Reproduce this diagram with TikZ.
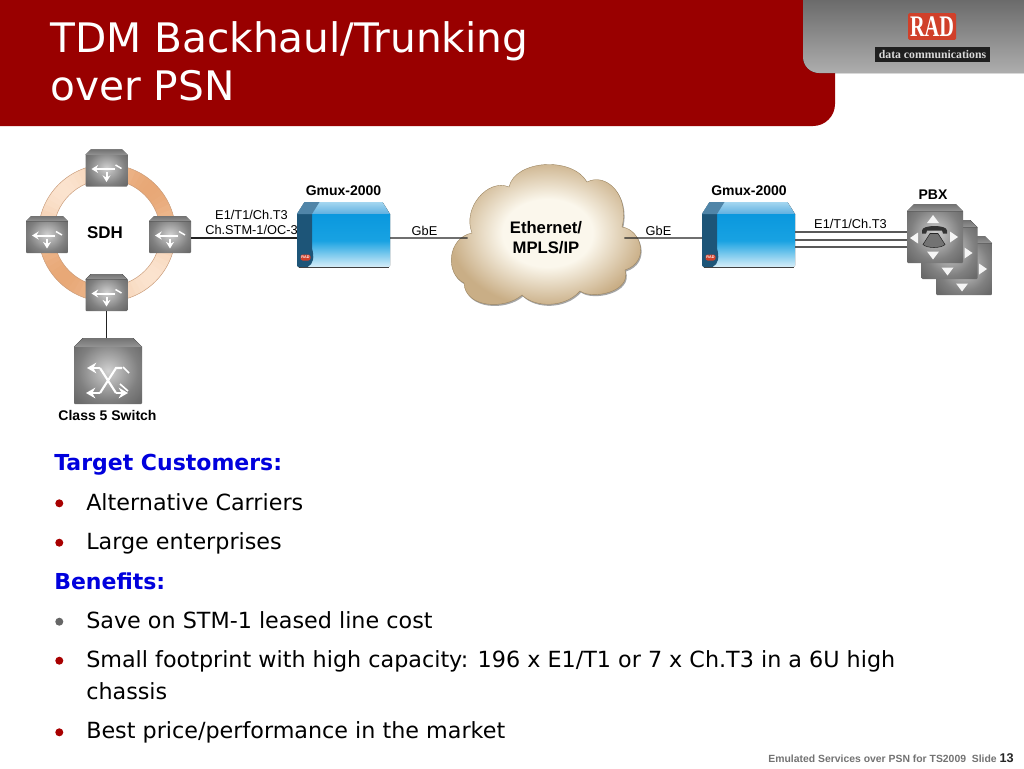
\documentclass[tikz,border=0pt]{standalone}
\usepackage{fontspec}
\setmainfont{Liberation Sans}
\newfontfamily\verd{DejaVu Sans}
\newfontfamily\slab{Liberation Serif}
\usetikzlibrary{arrows.meta,calc}
\definecolor{hdrred}{HTML}{990000}
\definecolor{bluehead}{HTML}{0000DD}
\definecolor{bulletred}{HTML}{A80000}
\definecolor{ringlight}{HTML}{FBE3CE}
\definecolor{ringdark}{HTML}{E8A877}
\definecolor{ringedge}{HTML}{C89A78}
\definecolor{linegrey}{HTML}{222222}
\definecolor{gmtopa}{HTML}{A4D6F0}
\definecolor{gmtopb}{HTML}{5FB0E0}
\definecolor{gmfa}{HTML}{0A98DE}
\definecolor{gmfb}{HTML}{18A2E2}
\definecolor{gmfc}{HTML}{D8EEF8}
\definecolor{gmdark}{HTML}{1D5578}
\definecolor{gmdarktop}{HTML}{5085A8}
\definecolor{cloudin}{HTML}{FBF7EC}
\definecolor{cloudout}{HTML}{C9AE86}
\definecolor{cloudedge}{HTML}{9C8560}
\definecolor{radred}{HTML}{D0402A}
\definecolor{sa}{HTML}{D2D2D2}
\definecolor{sb}{HTML}{ACACAC}
\definecolor{sc}{HTML}{808080}
\definecolor{sd}{HTML}{6A6A6A}
\pgfdeclareradialshading{devshade}{\pgfpointorigin}{color(0bp)=(sa); color(10bp)=(sb); color(22bp)=(sc); color(32bp)=(sd); color(50bp)=(sd)}
\pgfdeclareradialshading{cloudshade}{\pgfpointorigin}{color(0bp)=(cloudin); color(11bp)=(cloudin); color(24bp)=(cloudout); color(50bp)=(cloudout)}
\tikzset{
  x=0.75pt,y=-0.75pt,
  devnode/.style={inner sep=0pt,outer sep=0pt},
  lbl/.style={font=\fontsize{9.6}{11.25}\selectfont,align=center,text=black,inner sep=0pt},
  blbl/.style={font=\fontsize{10.5}{12}\selectfont\bfseries,align=center,text=black,inner sep=0pt},
  cloudlbl/.style={font=\fontsize{12.5}{15}\selectfont\bfseries,align=center,text=black,inner sep=0pt},
  bodytxt/.style={font=\verd\fontsize{16.7}{20}\selectfont,anchor=base west,inner sep=0pt,text=black},
  headtxt/.style={font=\verd\fontsize{16.5}{20}\selectfont\bfseries,anchor=base west,inner sep=0pt,text=bluehead},
  bul/.style={circle,inner sep=0pt,minimum size=6pt,fill=bulletred},
  bulgrey/.style={bul,fill=black!60},
  conn/.style={draw=linegrey,line width=0.8pt},
  trunk/.style={draw=black!65,line width=1.4pt},
  wht/.style={draw=white,line width=1.5pt,-{Stealth[length=5pt,width=6pt]}},
  bigwht/.style={draw=white,line width=1.6pt},
  bigarr/.style={bigwht,-{Stealth[length=7pt,width=8pt]}},
  tri/.style={fill=white!96!black},
}
% switch box: name, cx, cy, w, h
\newcommand\devbox[5]{%
  \node[devnode,minimum width=#4*0.75pt,minimum height=#5*0.75pt] (#1) at (#2,#3) {};
  \begin{scope}[shift={(#2,#3)}]
    \pgfmathsetmacro\hw{#4/2}\pgfmathsetmacro\hh{#5/2}\pgfmathsetmacro\ch{#4*0.13}
    \shade[shading=devshade]
      (-\hw,-\hh+\ch) -- (-\hw+\ch,-\hh) -- (\hw-\ch,-\hh) -- (\hw,-\hh+\ch) -- (\hw,\hh-1) -- (\hw-1,\hh) -- (-\hw+1,\hh) -- (-\hw,\hh-1) -- cycle;
    \fill[top color=black!55,bottom color=black!42]
      (-\hw,-\hh+\ch) -- (-\hw+\ch,-\hh) -- (\hw-\ch,-\hh) -- (\hw,-\hh+\ch) -- cycle;
  \end{scope}}
\newcommand\ringsw[3]{%
  \devbox{#1}{#2}{#3}{42}{37}
  \begin{scope}[shift={(#2,#3)}]
    \draw[wht,{Stealth[length=5pt,width=6pt]}-] (-15,1) -- (8,1);
    \draw[white,line width=1.1pt] (9,-3) -- (15,0.5);
    \draw[wht] (0,4) -- (0,14);
  \end{scope}}
\newcommand\gmuxbox[3]{%
  \node[devnode,minimum width=93*0.75pt,minimum height=65*0.75pt] (#1) at (#2,#3) {};
  \begin{scope}[shift={(#2,#3)}]
    \fill[top color=gmtopa,bottom color=gmtopb]
      (-46.5,-20.5) -- (-39,-32.5) -- (39,-32.5) -- (46.5,-20.5) -- cycle;
    \fill[top color=gmfa,bottom color=gmfc,middle color=gmfb]
      (-46.5,-20.5) -- (46.5,-20.5) -- (46.5,31) -- (45,32.5) -- (-45,32.5) -- (-46.5,31) -- cycle;
    \fill[gmdark] (-46.5,-20.5) -- (-31.5,-20.5) -- (-31.5,14) .. controls (-29,22) and (-30,30) .. (-36,32.5) -- (-45,32.5) -- (-46.5,31) -- cycle;
    \fill[gmdarktop] (-46.5,-20.5) -- (-39,-32.5) -- (-24,-32.5) -- (-31.5,-20.5) -- cycle;
    \draw[black!75,line width=0.6pt] (-45,32.5) -- (45,32.5);
    \node[devnode,fill=radred,rounded corners=1.6pt,minimum width=7.5pt,minimum height=4.5pt,text=white,font=\fontsize{2.8}{3}\selectfont\bfseries] (#1badge) at (-38,23) {RAD};
  \end{scope}}
\newcommand\pbxbox[3]{%
  \devbox{#1}{#2}{#3}{56}{59}
  \begin{scope}[shift={(#2,#3)}]
    \fill[tri] (-8,-10.5) -- (4,-10.5) -- (-2,-18.5) -- cycle;
    \fill[tri] (-8,18) -- (4,18) -- (-2,26) -- cycle;
    \fill[tri] (15,-2) -- (15,9) -- (23,3.5) -- cycle;
    \fill[tri] (-17,-1) -- (-17,10) -- (-25,4.5) -- cycle;
  \end{scope}}
\newcommand\cloudpath{(509,187) .. controls (515,160) and (572,156) .. (587,182)
  .. controls (606,172) and (630,195) .. (622,227)
  .. controls (642,230) and (650,262) .. (625,270)
  .. controls (632,292) and (592,300) .. (580,291)
  .. controls (565,308) and (535,308) .. (522,295)
  .. controls (505,310) and (465,308) .. (464,283)
  .. controls (445,274) and (447,238) .. (472,233)
  .. controls (462,208) and (488,178) .. (509,187) -- cycle}
\begin{document}
\begin{tikzpicture}
\useasboundingbox (0,0) rectangle (1024,768);
\fill[white] (0,0) rectangle (1024,768);
% header
\fill[hdrred] (0,0) -- (835,0) -- (835,104) arc[start angle=0,end angle=90,radius=22] -- (0,126) -- cycle;
\fill[top color=black!58,bottom color=black!32] (803,0) -- (1024,0) -- (1024,73) -- (819,73) arc[start angle=90,end angle=180,radius=16] -- cycle;
\node[anchor=base west,inner sep=0pt,text=white,font=\verd\fontsize{30.5}{36}\selectfont] (title1) at (50,52) {TDM Backhaul/Trunking};
\node[anchor=base west,inner sep=0pt,text=white,font=\verd\fontsize{30.5}{36}\selectfont] (title2) at (50,100) {over PSN};
\node[fill=radred,rounded corners=1pt,minimum width=36pt,minimum height=20pt,inner sep=0pt,text=white,font=\slab\fontsize{16}{18}\selectfont\bfseries] (radlogo) at (932,26.5) {\scalebox{0.95}[1.4]{RAD}};
\node[fill=black!88,minimum width=86.5pt,minimum height=11.5pt,inner sep=0pt,text=black!15,font=\slab\fontsize{8.8}{9}\selectfont\bfseries] (radtag) at (932.5,54.5) {data communications};
% SDH ring
\foreach \a in {0,5,...,355}{
  \pgfmathsetmacro\m{50-50*sin(2*(\a+2.5))}
  \fill[ringdark!\m!ringlight] ({107+68.5*cos(\a)},{233+68.5*sin(\a)}) arc[start angle=\a,delta angle=5.6,radius=68.5] -- ({107+53.5*cos(\a+5.6)},{233+53.5*sin(\a+5.6)}) arc[start angle=\a+5.6,delta angle=-5.6,radius=53.5] -- cycle;
}
\draw[ringedge,line width=0.35pt] (107,233) circle[radius=68.5] (107,233) circle[radius=53.5];
\ringsw{swtop}{106.5}{168}
\ringsw{swleft}{47}{234.5}
\ringsw{swright}{170}{234.5}
\ringsw{swbot}{106.5}{292.5}
\devbox{classfive}{108}{371}{68}{66}
\begin{scope}[shift={(108,371)}]
  \draw[bigarr] (-8,-3) -- (-21,-3);
  \draw[bigarr] (-8,22) -- (-22,22);
  \draw[bigarr] (8,22) -- (20,22);
  \draw[bigwht] (-8,-3) -- (8,22) (-8,22) -- (8,-3) -- (14,-3);
  \draw[white,line width=1.2pt] (15,-4) -- (21,2);
  \draw[white,line width=1.2pt] (12,13) -- (20,20);
\end{scope}
\node[blbl] (classfivelbl) at (107.5,415.5) {Class 5 Switch};
\node[font=\fontsize{12.7}{14}\selectfont\bfseries,inner sep=0pt] (sdh) at (105,233) {SDH};
\draw[conn] (swbot.south) -- (swbot.south |- classfive.north);
% Gmux
\gmuxbox{gmuxa}{343.5}{234.5}
\gmuxbox{gmuxb}{748.5}{234.5}
\node[blbl] (gmuxalbl) at (343.5,191) {Gmux-2000};
\node[blbl] (gmuxblbl) at (749,190.5) {Gmux-2000};
% cloud
\fill[black!35,shift={(1,1.5)}] \cloudpath;
\shade[shading=cloudshade] \cloudpath;
\draw[cloudedge,line width=0.3pt] \cloudpath;
\node[cloudlbl,minimum width=156*0.75pt] (cloud) at (546,238) {Ethernet/\\MPLS/IP};
% connectors
\draw[conn] ([yshift=-2.6pt]swright.east) -- ([yshift=-2.6pt]gmuxa.west);
\draw[conn] ([yshift=-2.6pt]gmuxa.east) -- (cloud.west);
\draw[conn] (cloud.east) -- ([yshift=-2.6pt]gmuxb.west);
\node[lbl] (stmlbl) at (251.5,222) {E1/T1/Ch.T3\\Ch.STM-1/OC-3};
\node[lbl] (gbea) at (424.5,230.5) {GbE};
\node[lbl] (gbeb) at (658.5,230.5) {GbE};
\node[lbl] (e1lbl) at (850.5,223.5) {E1/T1/Ch.T3};
% PBX
\pbxbox{pbxc}{964}{265.5}
\pbxbox{pbxb}{949.5}{249.5}
\pbxbox{pbxa}{935}{233.5}
\begin{scope}[shift={(935,233.5)}]
  \fill[black!80] (-13,-3) .. controls (-13,-9) and (12,-9) .. (12,-3) -- (12,0) -- (8,0) -- (7,-3) -- (-8,-3) -- (-9,0) -- (-13,0) -- cycle;
  \fill[black!55,draw=black!85,line width=0.4pt] (-5,0) -- (3,0) -- (10,11) .. controls (6,15) and (-8,15) .. (-12,11) -- cycle;
\end{scope}
\draw[trunk] ([yshift=1.875pt]gmuxb.east) -- ([yshift=1.125pt]pbxa.west);
\draw[trunk] ([yshift=-4.125pt]gmuxb.east) -- ([yshift=-4.875pt]pbxa.west);
\draw[trunk] ([yshift=-9.375pt]gmuxb.east) -- ([yshift=-10.125pt]pbxa.west);
\node[blbl] (pbxlbl) at (933,195) {PBX};
% body
\node[headtxt] (h1) at (54,470.5) {Target Customers:};
\node[bul] (b1) at (59.3,503.3) {};
\node[bodytxt] (t1) at (86,510) {Alternative Carriers};
\node[bul] (b2) at (59.3,542.7) {};
\node[bodytxt] (t2) at (86,549.5) {Large enterprises};
\node[headtxt] (h2) at (54,589) {Benefits:};
\node[bulgrey] (b3) at (59.3,621.7) {};
\node[bodytxt] (t3) at (86,628) {Save on STM-1 leased line cost};
\node[bul] (b4) at (59.3,660.7) {};
\node[bodytxt] (t4) at (86,667.5) {Small footprint with high capacity: 196 x E1/T1 or 7 x Ch.T3 in a 6U high};
\node[bodytxt] (t5) at (86,699) {chassis};
\node[bul] (b5) at (59.3,732.3) {};
\node[bodytxt] (t6) at (86,738.5) {Best price/performance in the market};
% footer
\node[anchor=base east,inner sep=0pt,font=\fontsize{7.8}{9}\selectfont,text=black!55] (foot) at (997,762) {\textbf{Emulated Services over PSN for TS2009\ \ Slide}};
\node[anchor=base east,inner sep=0pt,font=\fontsize{9.5}{10}\selectfont\bfseries,text=black!85] (slideno) at (1014,762) {13};
\end{tikzpicture}
\end{document}
